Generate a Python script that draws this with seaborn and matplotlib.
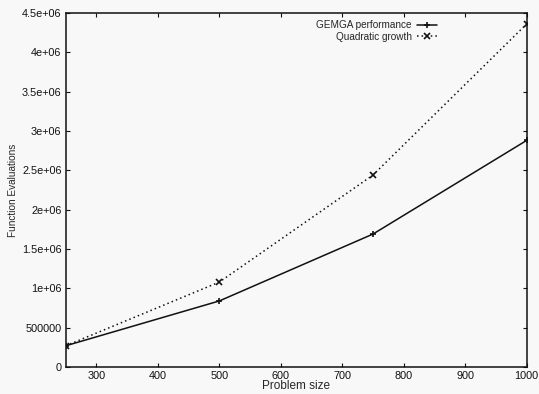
import seaborn as sns
import pandas as pd
import matplotlib.pyplot as plt

# values
problem_size = [250, 500, 750, 1000]
gemga = [270000, 840000, 1690000, 2880000]
quadratic = [270000, 1080000, 2440000, 4360000]
x_ticks = [300, 400, 500, 600, 700, 800, 900, 1000]
y_ticks = [0, 500000, 1000000, 1500000, 2000000, 2500000, 3000000, 3500000, 4000000, 4500000]
y_labels = ["0", "500000", "1e+06", "1.5e+06", "2e+06", "2.5e+06", "3e+06", "3.5e+06", "4e+06", "4.5e+06"]

df = pd.DataFrame({
    "size": problem_size * 2,
    "evals": gemga + quadratic,
    "series": ["GEMGA performance"] * 4 + ["Quadratic growth"] * 4,
})

sns.set_style("ticks")
plt.rcParams["font.family"] = ["Liberation Sans", "DejaVu Sans"]
plt.rcParams["xtick.direction"] = "in"
plt.rcParams["ytick.direction"] = "in"

fig = plt.figure(figsize=(5.39, 3.94), dpi=100, facecolor="#f7f8f7")
ax = fig.add_axes([0.122, 0.0685, 0.855, 0.8985])
ax.set_facecolor("#f7f8f7")

sns.lineplot(data=df, x="size", y="evals", hue="series", style="series",
             palette=["#111111", "#111111"], dashes=[(None, None), (1, 2)],
             markers=["+", "x"], markersize=5, markeredgewidth=1.2,
             markeredgecolor="#111111", linewidth=1.1, ax=ax)

ax.set_xlim(250, 1000)
ax.set_ylim(0, 4500000)
ax.set_xticks(x_ticks)
ax.set_yticks(y_ticks)
ax.set_yticklabels(y_labels)
ax.tick_params(labelsize=7.8, length=3, top=True, right=True, pad=3, colors="#111111")
ax.set_xlabel("Problem size", fontsize=8.5, labelpad=-1)
ax.set_ylabel("Function Evaluations", fontsize=7.2, labelpad=3)
for s in ax.spines.values():
    s.set_linewidth(1.1)
    s.set_color("#111111")

leg = ax.legend(loc="upper right", frameon=False, fontsize=7.2, markerfirst=False,
                handlelength=2.0, handletextpad=0.5, borderaxespad=0.3,
                labelspacing=0.15, bbox_to_anchor=(0.82, 1.0))
for h in leg.legend_handles:
    h.set_markeredgecolor("#111111")
leg._legend_box.align = "right"

fig.savefig("out.png", dpi=100, facecolor=fig.get_facecolor())
